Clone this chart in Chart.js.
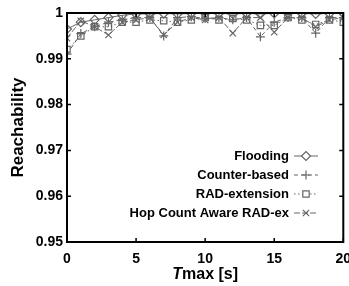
<!DOCTYPE html>
<html>
<head>
<meta charset="utf-8">
<script src="https://cdn.jsdelivr.net/npm/chart.js@4"></script>
<style>
  html, body { margin: 0; padding: 0; background: #fff; overflow: hidden; }
  #wrap { width: 349px; height: 286px; position: relative; }
</style>
</head>
<body>
<div id="wrap"><canvas id="chart"></canvas></div>
<script>
// Tmax [s]
var tmax = [0, 1, 2, 3, 4, 5, 6, 7, 8, 9, 10, 11, 12, 13, 14, 15, 16, 17, 18, 19, 20];

var flooding = [0.9965, 0.998, 0.9985, 0.999, 0.9995, 0.9998, 0.9998, 0.9999, 0.9998, 0.9999, 0.9999,
                0.9999, 0.9998, 0.9999, 0.9998, 0.9999, 0.9999, 0.9999, 0.9998, 0.9999, 0.9999];
var counterBased = [0.991, 0.9955, 0.997, 0.998, 0.9985, 0.999, 0.999, 0.995, 0.999, 0.9992, 0.9988,
                    0.999, 0.9985, 0.999, 0.9948, 0.998, 0.999, 0.999, 0.9956, 0.999, 0.999];
var radExtension = [0.992, 0.995, 0.997, 0.997, 0.998, 0.998, 0.9985, 0.9983, 0.998, 0.9985, 0.999,
                    0.9985, 0.9988, 0.9985, 0.9973, 0.9973, 0.999, 0.9985, 0.9975, 0.9985, 0.998];
var hopCount = [0.9945, 0.9983, 0.997, 0.9952, 0.998, 0.9985, 0.999, 0.9952, 0.998, 0.999, 0.9985,
                0.999, 0.9956, 0.999, 0.999, 0.9958, 0.999, 0.999, 0.997, 0.9985, 0.999];

var xTicks = [0, 5, 10, 15, 20];
var yTicks = [0.95, 0.96, 0.97, 0.98, 0.99, 1];

var grey = "#666666";
var tickFont = { family: "'Liberation Sans', Arial, sans-serif", size: 14, weight: "bold" };

function pts(ys) {
  return ys.map(function (v, i) { return { x: tmax[i], y: v }; });
}

function series(label, ys, style, dash) {
  return {
    label: label,
    data: pts(ys),
    borderColor: grey,
    backgroundColor: "rgba(0,0,0,0)",
    borderWidth: 1,
    borderDash: dash,
    pointStyle: style,
    pointRadius: 4.5,
    pointBorderWidth: 1.2,
    pointBorderColor: grey,
    pointBackgroundColor: "rgba(0,0,0,0)",
    fill: false,
    tension: 0
  };
}

// frame, inward ticks, legend and x title
var extras = {
  id: "extras",
  afterDraw: function (chart) {
    var ctx = chart.ctx;
    var a = chart.chartArea;
    var xs = chart.scales.x, ys = chart.scales.y;
    ctx.save();
    ctx.strokeStyle = "#000";
    ctx.lineWidth = 2;
    ctx.strokeRect(a.left, a.top, a.right - a.left, a.bottom - a.top);

    ctx.lineWidth = 1.5;
    ctx.beginPath();
    xTicks.forEach(function (t) {
      var px = xs.getPixelForValue(t);
      ctx.moveTo(px, a.bottom); ctx.lineTo(px, a.bottom - 4);
      ctx.moveTo(px, a.top); ctx.lineTo(px, a.top + 4);
    });
    yTicks.forEach(function (t) {
      var py = ys.getPixelForValue(t);
      ctx.moveTo(a.left, py); ctx.lineTo(a.left + 4, py);
      ctx.moveTo(a.right, py); ctx.lineTo(a.right - 4, py);
    });
    ctx.stroke();

    // legend
    ctx.font = "bold 13px 'Liberation Sans', Arial, sans-serif";
    ctx.textAlign = "right";
    ctx.textBaseline = "middle";
    chart.data.datasets.forEach(function (ds, i) {
      var y = 156 + i * 19;
      ctx.fillStyle = "#000";
      ctx.fillText(ds.label, 289, y);
      ctx.strokeStyle = grey;
      ctx.lineWidth = 1;
      ctx.setLineDash(ds.borderDash || []);
      ctx.beginPath();
      ctx.moveTo(294, y); ctx.lineTo(318, y);
      ctx.stroke();
      ctx.setLineDash([]);
      ctx.fillStyle = "#fff";
      ctx.lineWidth = 1.2;
      Chart.helpers.drawPoint(ctx, { pointStyle: ds.pointStyle, radius: 4.5, borderWidth: 1.2, rotation: 0 }, 306, y);
    });

    // x title with italic T
    ctx.fillStyle = "#000";
    ctx.textAlign = "left";
    ctx.textBaseline = "middle";
    var f1 = "italic bold 16px 'Liberation Sans', Arial, sans-serif";
    var f2 = "bold 16px 'Liberation Sans', Arial, sans-serif";
    ctx.font = f1; var w1 = ctx.measureText("T").width;
    ctx.font = f2; var w2 = ctx.measureText("max [s]").width;
    var x0 = (a.left + a.right) / 2 - (w1 + w2) / 2;
    ctx.font = f1; ctx.fillText("T", x0, 275);
    ctx.font = f2; ctx.fillText("max [s]", x0 + w1, 275);
    ctx.restore();
  }
};

new Chart(document.getElementById("chart"), {
  type: "line",
  data: {
    datasets: [
      series("Flooding", flooding, "rectRot", []),
      series("Counter-based", counterBased, "cross", [4, 3]),
      series("RAD-extension", radExtension, "rect", [1.5, 2.5]),
      series("Hop Count Aware RAD-ex", hopCount, "crossRot", [6, 2])
    ]
  },
  options: {
    responsive: true,
    maintainAspectRatio: false,
    animation: false,
    layout: { padding: { top: 13, right: 3, left: 0, bottom: 0 } },
    plugins: { legend: { display: false }, tooltip: { enabled: false } },
    scales: {
      x: {
        type: "linear",
        min: 0,
        max: 20,
        afterBuildTicks: function (s) { s.ticks = xTicks.map(function (v) { return { value: v }; }); },
        afterFit: function (s) { s.height = 44; s.paddingRight = 0; s.paddingLeft = 0; },
        grid: { display: false, drawTicks: false },
        border: { display: false },
        ticks: { color: "#000", font: tickFont, padding: 9, maxRotation: 0 }
      },
      y: {
        min: 0.95,
        max: 1,
        afterBuildTicks: function (s) { s.ticks = yTicks.map(function (v) { return { value: v }; }); },
        afterFit: function (s) { s.width = 67; s.paddingTop = 0; s.paddingBottom = 0; },
        grid: { display: false, drawTicks: false },
        border: { display: false },
        ticks: {
          color: "#000", font: tickFont, padding: 4,
          callback: function (v) { return v === 1 ? "1" : v.toFixed(2); }
        },
        title: {
          display: true,
          text: "Reachability",
          color: "#000",
          font: { family: "'Liberation Sans', Arial, sans-serif", size: 17, weight: "bold" },
          padding: { top: 8, bottom: 6 }
        }
      }
    }
  },
  plugins: [extras]
});
</script>
</body>
</html>
